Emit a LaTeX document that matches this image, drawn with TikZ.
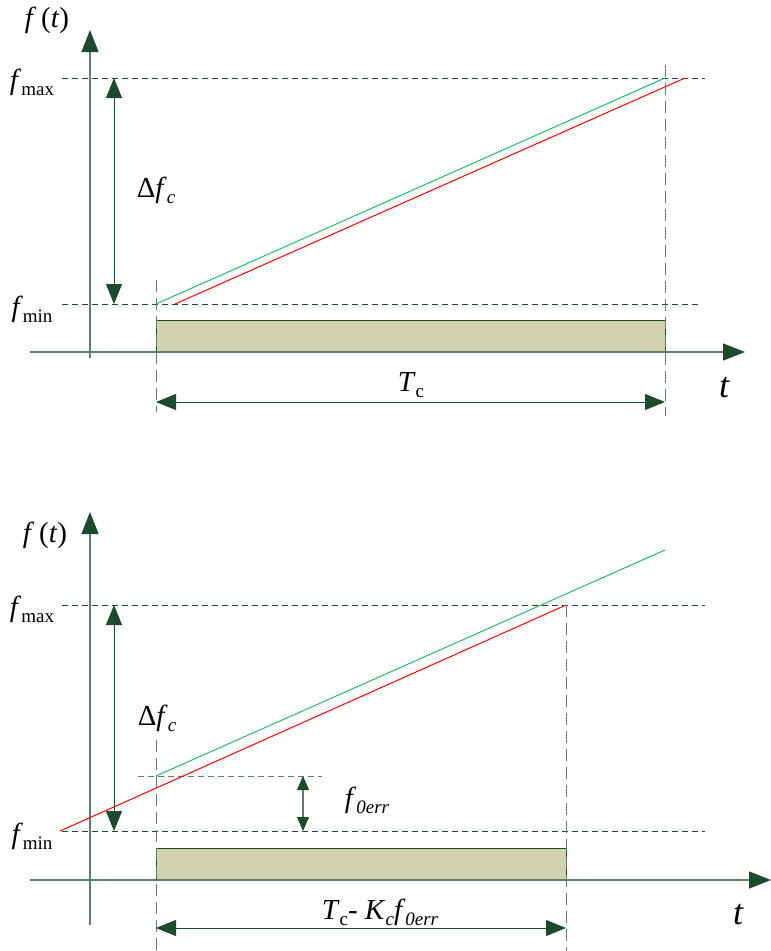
\documentclass[tikz,border=0pt]{standalone}
\usepackage{fontspec}
\setmainfont{Liberation Serif}
\usetikzlibrary{arrows.meta,positioning}
\definecolor{axisgreen}{HTML}{1B4A2C}
\definecolor{linegray}{HTML}{5E7F6B}
\definecolor{boxfill}{HTML}{D2D3AE}
\definecolor{chirpgreen}{HTML}{22BB66}
\newcommand{\lowtxt}[1]{\raisebox{-0.45ex}{\fontsize{19}{20}\selectfont #1}}

\begin{document}
\begin{tikzpicture}[x=1pt, y=-1pt,
  axis/.style={line width=1.4pt, linegray, -{Triangle[length=22pt, width=17pt, color=axisgreen]}},
  span/.style={line width=1pt, axisgreen, {Triangle[length=20pt, width=16pt]}-{Triangle[length=20pt, width=16pt]}},
  small/.style={line width=1.2pt, linegray, {Triangle[length=14pt, width=12pt, color=axisgreen]}-{Triangle[length=14pt, width=12pt, color=axisgreen]}},
  level/.style={line width=0.9pt, axisgreen, dash pattern=on 6pt off 4pt},
  marker/.style={line width=1pt, linegray, dash pattern=on 12pt off 6pt},
  chirp/.style={line width=1pt, #1},
  band/.style={line width=1pt, draw=axisgreen, fill=boxfill},
  lbl/.style={inner sep=0pt, font=\fontsize{29}{31}\selectfont},
  tlbl/.style={inner sep=0pt, font=\fontsize{36}{38}\selectfont\itshape}
]
  \useasboundingbox (0,0) rectangle (771,951);

  % upper panel
  \coordinate (a1) at (90,358);   \coordinate (a1t) at (90,30);
  \coordinate (b1) at (30,352);   \coordinate (b1t) at (745,352);
  \coordinate (max1l) at (62,78); \coordinate (max1r) at (705,78);
  \coordinate (min1l) at (62,304); \coordinate (min1r) at (698,304);
  \coordinate (d1t) at (114,78);  \coordinate (d1b) at (114,304);
  \coordinate (s1) at (156,304);  \coordinate (e1) at (665,78);
  \coordinate (r1s) at (175,304); \coordinate (r1e) at (685,78);
  \coordinate (v1a) at (156,280); \coordinate (v1b) at (156,412);
  \coordinate (w1a) at (665,65);  \coordinate (w1b) at (665,416);
  \coordinate (p1l) at (156,402); \coordinate (p1r) at (665,402);

  \draw[level] (max1l) -- (max1r);
  \draw[level] (min1l) -- (min1r);
  \draw[band] (156,320) rectangle (665,352);
  \draw[marker] (v1a) -- (v1b);
  \draw[marker] (w1a) -- (w1b);
  \draw[axis] (a1) -- (a1t);
  \draw[axis] (b1) -- (b1t);
  \draw[chirp=chirpgreen] (s1) -- (e1);
  \draw[chirp=red] (r1s) -- (r1e);
  \draw[span] (d1t) -- (d1b);
  \draw[span] (p1l) -- (p1r);

  \node[lbl] (ft1) at (47,20) {\textit{f}\,(\textit{t})};
  \node[lbl] (fmax1) at (32,82) {\textit{f}\lowtxt{max}};
  \node[lbl] (fmin1) at (32,309) {\textit{f}\lowtxt{min}};
  \node[lbl] (df1) at (156,190) {Δ\textit{f}\lowtxt{\textit{c}}};
  \node[lbl] (tc1) at (411,385) {\textit{T}\lowtxt{c}};
  \node[tlbl] (t1) at (724,388) {t};

  % lower panel
  \coordinate (a2) at (90,925);   \coordinate (a2t) at (90,512);
  \coordinate (b2) at (30,880);   \coordinate (b2t) at (771,880);
  \coordinate (max2l) at (62,605); \coordinate (max2r) at (705,605);
  \coordinate (min2l) at (62,831); \coordinate (min2r) at (705,831);
  \coordinate (d2t) at (114,605);  \coordinate (d2b) at (114,831);
  \coordinate (s2) at (156,776);   \coordinate (e2) at (665,550);
  \coordinate (r2s) at (60,831);   \coordinate (r2e) at (566,605);
  \coordinate (errl) at (138,776); \coordinate (errr) at (322,776);
  \coordinate (q2t) at (303,776);  \coordinate (q2b) at (303,831);
  \coordinate (v2a) at (156,740);  \coordinate (v2b) at (156,951);
  \coordinate (w2a) at (566,605);  \coordinate (w2b) at (566,951);
  \coordinate (p2l) at (156,928);  \coordinate (p2r) at (566,928);

  \draw[level] (max2l) -- (max2r);
  \draw[level] (min2l) -- (min2r);
  \draw[level, linegray] (errl) -- (errr);
  \draw[band] (156,848) rectangle (566,880);
  \draw[marker] (v2a) -- (v2b);
  \draw[marker] (w2a) -- (w2b);
  \draw[axis] (a2) -- (a2t);
  \draw[axis] (b2) -- (b2t);
  \draw[chirp=chirpgreen] (s2) -- (e2);
  \draw[chirp=red] (r2s) -- (r2e);
  \draw[span] (d2t) -- (d2b);
  \draw[small] (q2t) -- (q2b);
  \draw[span] (p2l) -- (p2r);

  \node[lbl] (ft2) at (45,535) {\textit{f}\,(\textit{t})};
  \node[lbl] (fmax2) at (32,609) {\textit{f}\lowtxt{max}};
  \node[lbl] (fmin2) at (32,836) {\textit{f}\lowtxt{min}};
  \node[lbl] (df2) at (157,718) {Δ\textit{f}\lowtxt{\textit{c}}};
  \node[lbl] (ferr) at (367,800) {\textit{f}\lowtxt{\textit{0err}}};
  \node[lbl] (tc2) at (380,912) {\textit{T}\lowtxt{c}- \textit{K}\lowtxt{\textit{c}}\textit{f}\lowtxt{\textit{0err}}};
  \node[tlbl] (t2) at (738,915) {t};
\end{tikzpicture}
\end{document}
